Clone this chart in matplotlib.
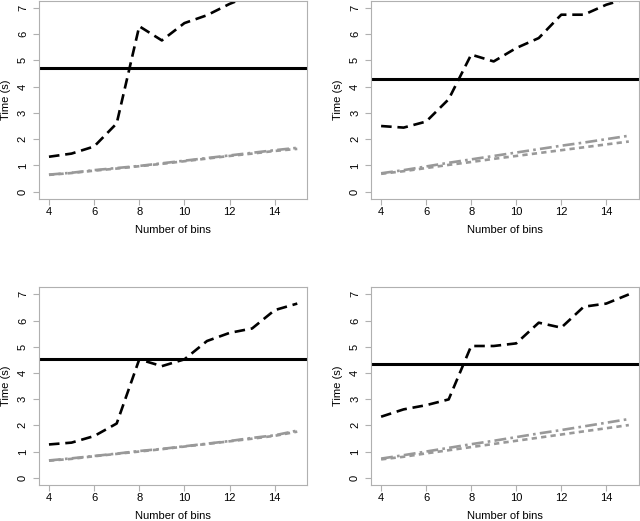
"""Four panels of run time vs number of bins (R base graphics look)."""

import matplotlib
matplotlib.use("Agg")
import matplotlib.pyplot as plt


# ---------------------------------------------------------------------------
# Data
# ---------------------------------------------------------------------------

bins = [4, 5, 6, 7, 8, 9, 10, 11, 12, 13, 14, 15]

# top left
tl_dashed = [1.33, 1.45, 1.72, 2.6, 6.3, 5.76, 6.42, 6.72, 7.15, 7.5, 7.8, 8.1]
tl_level = 4.71
tl_dashdot = [0.65, 0.72, 0.82, 0.9, 0.98, 1.08, 1.18, 1.28, 1.38, 1.48, 1.58, 1.67]
tl_dotted = [0.64, 0.71, 0.80, 0.88, 0.97, 1.06, 1.16, 1.26, 1.36, 1.45, 1.55, 1.63]

# top right
tr_dashed = [2.5, 2.44, 2.67, 3.52, 5.22, 4.96, 5.47, 5.85, 6.74, 6.74, 7.12, 7.38]
tr_level = 4.3
tr_dashdot = [0.7, 0.82, 0.96, 1.1, 1.23, 1.36, 1.49, 1.62, 1.75, 1.87, 2.0, 2.13]
tr_dotted = [0.68, 0.78, 0.9, 1.02, 1.13, 1.25, 1.36, 1.47, 1.58, 1.69, 1.8, 1.91]

# bottom left
bl_dashed = [1.27, 1.34, 1.59, 2.07, 4.52, 4.26, 4.52, 5.22, 5.53, 5.7, 6.4, 6.65]
bl_level = 4.53
bl_dashdot = [0.66, 0.74, 0.83, 0.92, 1.02, 1.1, 1.2, 1.3, 1.4, 1.52, 1.62, 1.8]
bl_dotted = [0.65, 0.72, 0.82, 0.91, 1.0, 1.09, 1.19, 1.29, 1.39, 1.49, 1.6, 1.76]

# bottom right
br_dashed = [2.33, 2.61, 2.77, 2.99, 5.03, 5.03, 5.13, 5.92, 5.73, 6.53, 6.65, 7.0]
br_level = 4.34
br_dashdot = [0.73, 0.86, 1.0, 1.14, 1.28, 1.41, 1.55, 1.69, 1.82, 1.96, 2.1, 2.24]
br_dotted = [0.7, 0.8, 0.93, 1.05, 1.17, 1.29, 1.41, 1.53, 1.65, 1.77, 1.89, 2.01]

x_ticks = [4, 6, 8, 10, 12, 14]
y_ticks = [0, 1, 2, 3, 4, 5, 6, 7]

# ---------------------------------------------------------------------------
# Look
# ---------------------------------------------------------------------------

STYLE = {
    "font_size": 8,
    "box_color": "#b0b0b0",
    "gray": "#999999",
    "dash_lw": 1.9,
    "level_lw": 2.2,
    "gray_lw": 1.9,
}

plt.rcParams["font.family"] = ["Liberation Sans", "DejaVu Sans"]
plt.rcParams["font.size"] = STYLE["font_size"]

panels = [
    # (axes rect, dashed, level, dashdot, dotted)
    ([0.061, 0.618, 0.419, 0.381], tl_dashed, tl_level, tl_dashdot, tl_dotted),
    ([0.580, 0.618, 0.418, 0.381], tr_dashed, tr_level, tr_dashdot, tr_dotted),
    ([0.061, 0.069, 0.419, 0.380], bl_dashed, bl_level, bl_dashdot, bl_dotted),
    ([0.580, 0.069, 0.418, 0.380], br_dashed, br_level, br_dashdot, br_dotted),
]

fig = plt.figure(figsize=(6.4, 5.21), dpi=100)

for rect, dashed, level, dashdot, dotted in panels:
    ax = fig.add_axes(rect)
    ax.plot(bins, dotted, color=STYLE["gray"], lw=STYLE["gray_lw"],
            linestyle=(0, (2.0, 1.6)))
    ax.plot(bins, dashdot, color=STYLE["gray"], lw=STYLE["gray_lw"],
            linestyle=(0, (4.5, 1.6, 1.0, 1.6)))
    ax.plot(bins, dashed, color="black", lw=STYLE["dash_lw"],
            linestyle=(0, (4.0, 2.2)))
    ax.axhline(level, color="black", lw=STYLE["level_lw"])

    ax.set_xlim(3.56, 15.44)
    ax.set_ylim(-0.28, 7.28)
    ax.set_xticks(x_ticks)
    ax.set_yticks(y_ticks)
    ax.set_yticklabels([str(v) for v in y_ticks], rotation=90, va="center")
    ax.tick_params(axis="both", direction="out", length=4,
                   color=STYLE["box_color"], width=0.8)
    ax.tick_params(axis="x", pad=2)
    ax.tick_params(axis="y", pad=4)
    for spine in ax.spines.values():
        spine.set_color(STYLE["box_color"])
        spine.set_linewidth(0.8)

    ax.set_xlabel("Number of bins", va="center")
    ax.xaxis.set_label_coords(0.5, -0.158)
    ax.set_ylabel("Time (s)", va="center")
    ax.yaxis.set_label_coords(-0.125, 0.5)

fig.savefig("out.png", dpi=100)
